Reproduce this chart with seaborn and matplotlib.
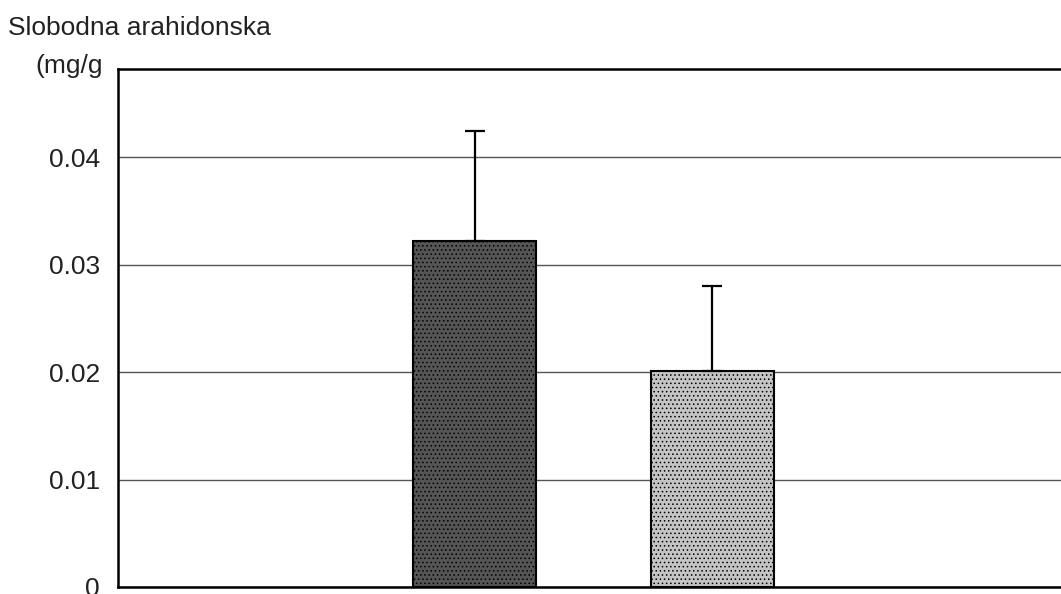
import matplotlib
matplotlib.use("Agg")
import matplotlib.pyplot as plt
import seaborn as sns
import pandas as pd

# podaci
grupe = ["G1", "G2", "G3", "G4"]
izmjerene = ["G2", "G3"]
srednje = [0.0322, 0.0201]
sd = [0.0102, 0.0079]
boje = ["#555555", "#c4c4c4"]

sns.set_style("white")
plt.rcParams['font.family'] = ['Liberation Sans', 'DejaVu Sans']
plt.rcParams['hatch.linewidth'] = 0.6

df = pd.DataFrame({"grupa": izmjerene, "vrijednost": srednje})

fig = plt.figure(figsize=(10.61, 5.94), dpi=100)
ax = fig.add_axes([118 / 1061, 7 / 594, 951 / 1061, 518 / 594])

sns.barplot(data=df, x="grupa", y="vrijednost", order=grupe, color="grey",
            width=0.52, errorbar=None, ax=ax)
ax.set_xlim(-0.5, 3.5)

bars = [p for p in ax.patches if p.get_height() > 0]
bars.sort(key=lambda p: p.get_x())
for p, c in zip(bars, boje):
    p.set_facecolor(c)
    p.set_edgecolor("black")
    p.set_linewidth(1.5)
    p.set_hatch("....")

# samo gornja greska (kao u Excelu)
for p, m, s in zip(bars, srednje, sd):
    cx = p.get_x() + p.get_width() / 2
    ax.errorbar(cx, m, yerr=[[0], [s]], fmt="none", ecolor="black",
                elinewidth=1.6, capsize=7, capthick=1.6, zorder=3)

ax.set_ylim(0, 0.0482)
ax.set_yticks([0, 0.01, 0.02, 0.03, 0.04])
ax.set_yticklabels(["0", "0.01", "0.02", "0.03", "0.04"])
ax.yaxis.grid(True, color="#555555", linewidth=1.0)
ax.set_axisbelow(True)
ax.set_xlabel("")
ax.set_ylabel("")
ax.set_xticks([])
ax.tick_params(axis="y", labelsize=19, length=0, pad=13, colors="#222222")
for side in ["left", "bottom", "top"]:
    ax.spines[side].set_color("black")
    ax.spines[side].set_linewidth(1.8)
ax.spines["right"].set_visible(False)

fig.text(8 / 1061, 1 - 35 / 594, "Slobodna arahidonska", fontsize=19,
         va="baseline", ha="left", color="#222222")
fig.text(35 / 1061, 1 - 73 / 594, "(mg/g", fontsize=19, va="baseline",
         ha="left", color="#222222")

fig.savefig("out.png", dpi=100)
